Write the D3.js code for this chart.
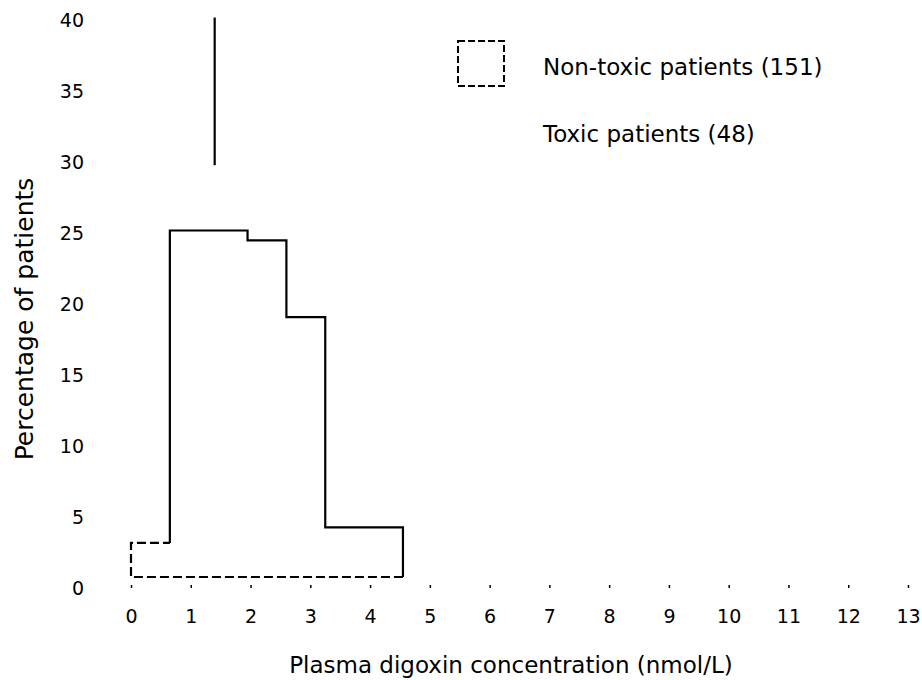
<!DOCTYPE html>
<html>
<head>
<meta charset="utf-8">
<script src="https://cdn.jsdelivr.net/npm/d3@7/dist/d3.min.js"></script>
<style>
  html, body { margin: 0; padding: 0; background: #fff; }
  svg { display: block; }
  text { font-family: "DejaVu Sans", "Liberation Sans", Arial, sans-serif; fill: #000; }
</style>
</head>
<body>
<svg id="chart" width="922" height="680"></svg>
<script>
// ---- data ----
const binEdges = [0, 0.65, 1.3, 1.95, 2.6, 3.25, 3.9, 4.55];      // nmol/L
const nonToxicPct = [2.4, 24.4, 24.4, 23.7, 18.3, 3.5, 3.5];      // % of 151 patients
const toxicPeakX = [1.4];                                          // visible toxic trace
const toxicPeakRange = [29, 39.4];                                 // % range of that trace
const xTicks = [0, 1, 2, 3, 4, 5, 6, 7, 8, 9, 10, 11, 12, 13];
const yTicks = [0, 5, 10, 15, 20, 25, 30, 35, 40];
const legendLabels = ["Non-toxic patients (151)", "Toxic patients (48)"];
const xTitle = "Plasma digoxin concentration (nmol/L)";
const yTitle = "Percentage of patients";

const FONT = "DejaVu Sans, Liberation Sans, Arial, sans-serif";

// ---- layout ----
const svg = d3.select("#chart");
const x = d3.scaleLinear().domain([0, 13]).range([131, 908]);
const y = d3.scaleLinear().domain([0, 40]).range([577, 9]);

// y axis labels (no line)
const yAxis = svg.append("g")
  .attr("transform", "translate(87,11)")
  .call(d3.axisLeft(y).tickValues(yTicks).tickSize(0).tickPadding(3));
yAxis.select(".domain").remove();
yAxis.selectAll("text").style("font-size", "19px").style("font-family", FONT);

// x axis (tiny ticks, no line)
const xAxis = svg.append("g")
  .attr("transform", "translate(0,585)")
  .call(d3.axisBottom(x).tickValues(xTicks).tickSize(3).tickPadding(22).tickFormat(d3.format("d")));
xAxis.select(".domain").remove();
xAxis.selectAll("line").attr("stroke", "#000").attr("stroke-width", 1.5);
xAxis.selectAll("text").style("font-size", "19px").style("font-family", FONT);

// non-toxic histogram outline (step polygon)
const pts = [[binEdges[0], 0]];
nonToxicPct.forEach((v, i) => {
  pts.push([binEdges[i], v]);
  pts.push([binEdges[i + 1], v]);
});
pts.push([binEdges[binEdges.length - 1], 0]);
const line = d3.line().x(d => x(d[0])).y(d => y(d[1]));
// lower-left part and baseline: dashed
const dashedPart = pts.slice(0, 3);
svg.append("path")
  .attr("d", line([[binEdges[binEdges.length - 1], 0]].concat(dashedPart)))
  .attr("fill", "none")
  .attr("stroke", "#000")
  .attr("stroke-width", 2.2)
  .attr("stroke-dasharray", "9,4");
// upper outline: solid
svg.append("path")
  .attr("d", line(pts.slice(2)))
  .attr("fill", "none")
  .attr("stroke", "#000")
  .attr("stroke-width", 2.2);

// toxic trace
svg.append("g").selectAll("line")
  .data(toxicPeakX)
  .join("line")
  .attr("x1", d => x(d)).attr("x2", d => x(d))
  .attr("y1", y(toxicPeakRange[0])).attr("y2", y(toxicPeakRange[1]))
  .attr("stroke", "#000").attr("stroke-width", 2.2);

// legend
svg.append("rect")
  .attr("x", 458).attr("y", 41).attr("width", 46).attr("height", 45)
  .attr("fill", "none").attr("stroke", "#000").attr("stroke-width", 2)
  .attr("stroke-dasharray", "7,3");
svg.selectAll(".leg")
  .data(legendLabels)
  .join("text")
  .attr("class", "leg")
  .attr("x", 543)
  .attr("y", (d, i) => 75 + i * 67)
  .style("font-size", "23px")
  .text(d => d);

// axis titles
svg.append("text")
  .attr("x", 511).attr("y", 673)
  .attr("text-anchor", "middle")
  .style("font-size", "23px")
  .text(xTitle);
svg.append("text")
  .attr("transform", "translate(33,319) rotate(-90)")
  .attr("text-anchor", "middle")
  .style("font-size", "25px")
  .text(yTitle);
</script>
</body>
</html>
